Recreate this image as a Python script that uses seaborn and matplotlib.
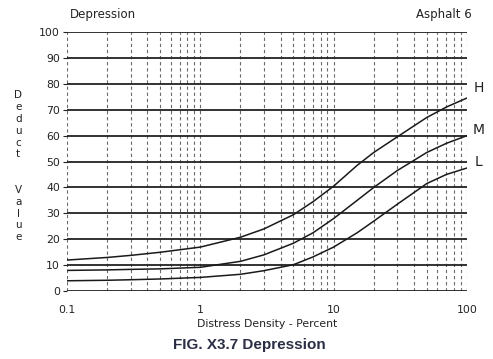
import matplotlib
matplotlib.use("Agg")
import matplotlib.pyplot as plt
import numpy as np
import pandas as pd
import seaborn as sns

# values
density = [0.1, 0.2, 0.3, 0.5, 1, 2, 3, 5, 7, 10, 15, 20, 30, 50, 70, 100]
high = [12, 13, 13.8, 15, 17, 20.8, 24, 29.5, 34.5, 40.5, 48.5, 53.5, 59.5, 67, 71, 74.5]
medium = [8, 8.2, 8.4, 8.6, 9.2, 11.5, 14, 18.5, 22.5, 28, 35, 40, 46.5, 53.5, 57, 60]
low = [4, 4.2, 4.4, 4.7, 5.3, 6.5, 7.9, 10.2, 13.2, 17, 22.5, 27, 33.5, 41.5, 45, 47.5]
severity = ["H", "M", "L"]
y_ticks = [0, 10, 20, 30, 40, 50, 60, 70, 80, 90, 100]
x_ticks = [0.1, 1, 10, 100]
x_tick_labels = ["0.1", "1", "10", "100"]

df = pd.DataFrame({
    "density": density * 3,
    "deduct": high + medium + low,
    "severity": [s for s in severity for _ in density],
})

sns.set_theme(style="white")
plt.rcParams['font.family'] = ['DejaVu Sans']
ink = "#222222"

fig = plt.figure(figsize=(4.93, 3.59), dpi=100)
ax = fig.add_axes([0.136, 0.189, 0.811, 0.722])

# dashed vertical grid at every log minor/major position
minor_x = [m * d for d in [0.1, 1, 10] for m in range(1, 10)] + [100]
for xv in minor_x:
    ax.axvline(xv, color="#6a6a6a", lw=0.8, ls=(0, (3, 2.5)), zorder=1)
for yv in y_ticks:
    ax.axhline(yv, color=ink, lw=1.3, zorder=2)

sns.lineplot(data=df, x="density", y="deduct", hue="severity",
             palette=["#1a1a1a"] * 3, lw=1.1, legend=False, ax=ax, zorder=3)

ax.set_xscale("log")
ax.set_xlim(0.1, 100)
ax.set_ylim(0, 100)
ax.set_xticks(x_ticks)
ax.set_xticklabels(x_tick_labels)
ax.xaxis.set_minor_locator(matplotlib.ticker.NullLocator())
ax.set_yticks(y_ticks)
ax.tick_params(axis="both", labelsize=7.8, colors=ink)
ax.tick_params(axis="y", length=3, width=0.8, left=True, pad=2)
ax.tick_params(axis="x", length=0, pad=10)
for side in ["left", "right", "top", "bottom"]:
    ax.spines[side].set_visible(False)

ax.set_xlabel("Distress Density - Percent", fontsize=7.8, labelpad=3, color=ink)
ax.set_ylabel("")

# stacked letters for the y-axis label
ylab = "Deduct  Value"
y0 = 0.735
for i, ch in enumerate(ylab):
    if ch != " ":
        fig.text(0.037, y0 - i * 0.033, ch, fontsize=7.5, ha="center", va="center",
                 color=ink)

fig.text(0.142, 0.96, "Depression", fontsize=8.5, ha="left", va="center", color=ink)
fig.text(0.957, 0.96, "Asphalt 6", fontsize=8.5, ha="right", va="center", color=ink)

label_y = [78.5, 62, 50]
for lab, yv in zip(severity, label_y):
    ax.text(1.03, yv, lab, transform=ax.get_yaxis_transform(), fontsize=10,
            ha="center", va="center", color=ink)

fig.text(0.505, 0.038, "FIG. X3.7 Depression", fontsize=11, fontweight="bold",
         family="Liberation Sans", ha="center", va="center", color="#2b2f45")

fig.savefig("out.png", dpi=100)
